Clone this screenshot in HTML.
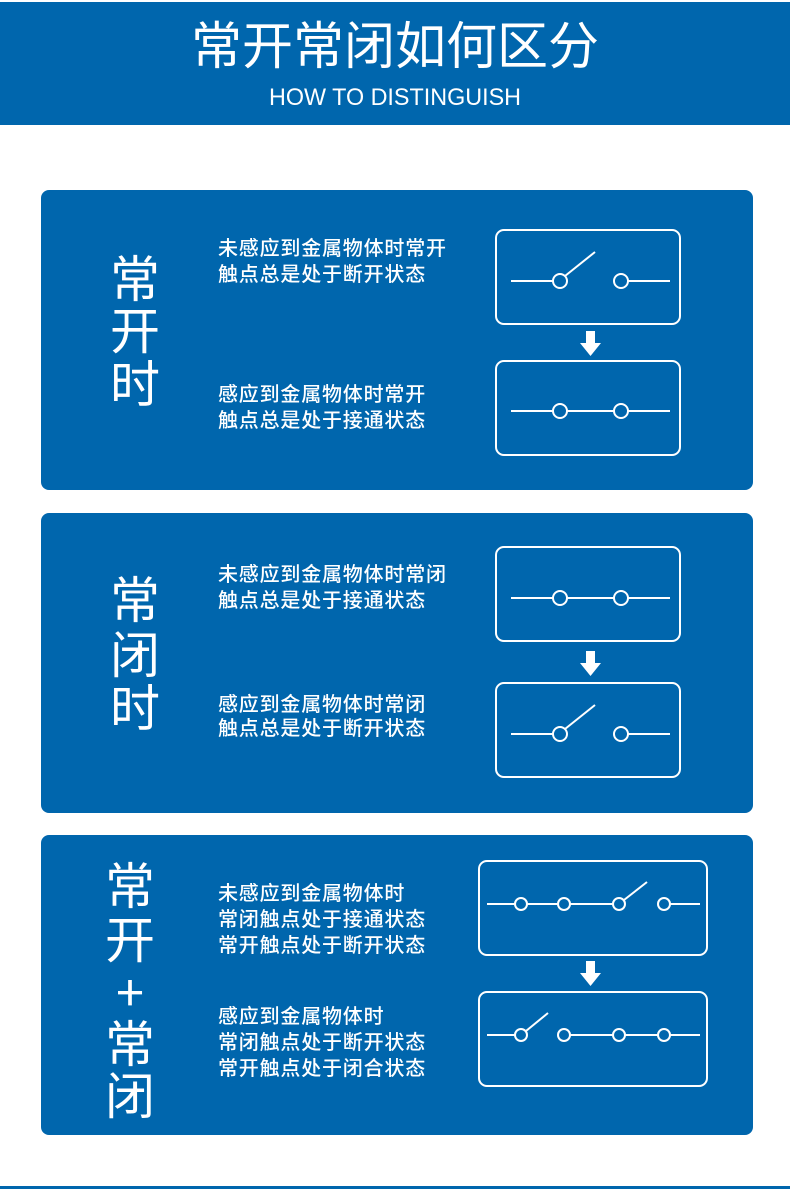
<!DOCTYPE html>
<html><head><meta charset="utf-8"><style>
html,body{margin:0;padding:0;background:#fff;}
svg{display:block}
text{font-family:"Liberation Sans","Noto Sans CJK SC",sans-serif;fill:#fff}
.c{font-family:"Noto Sans CJK SC",sans-serif}
</style></head><body>
<svg width="790" height="1189" viewBox="0 0 790 1189" xmlns="http://www.w3.org/2000/svg">
<rect x="0" y="2" width="790" height="123" fill="#0066ad"/>
<text class="c" x="395" y="64" font-size="51" text-anchor="middle">常开常闭如何区分</text>
<text x="395" y="105" font-size="24" text-anchor="middle" textLength="252" lengthAdjust="spacingAndGlyphs">HOW TO DISTINGUISH</text>

<rect x="41" y="190" width="712" height="300" rx="8" fill="#0066ad"/>
<rect x="41" y="513" width="712" height="300" rx="8" fill="#0066ad"/>
<rect x="41" y="835" width="712" height="300" rx="8" fill="#0066ad"/>
<rect x="0" y="1186" width="790" height="3" fill="#0066ad"/>

<g class="c" font-size="50" text-anchor="middle">
<text class="c" x="135" y="297">常</text>
<text class="c" x="135" y="349">开</text>
<text class="c" x="135" y="402">时</text>
<text class="c" x="135" y="618">常</text>
<text class="c" x="135" y="673">闭</text>
<text class="c" x="135" y="726">时</text>
<text class="c" x="130" y="904">常</text>
<text class="c" x="130" y="958">开</text>
<text class="c" x="130" y="1011">+</text>
<text class="c" x="130" y="1062">常</text>
<text class="c" x="130" y="1114">闭</text>
</g>

<g font-size="20" font-weight="500" letter-spacing="0.8">
<text class="c" x="218" y="255">未感应到金属物体时常开</text>
<text class="c" x="218" y="281">触点总是处于断开状态</text>
<text class="c" x="218" y="401">感应到金属物体时常开</text>
<text class="c" x="218" y="427">触点总是处于接通状态</text>
<text class="c" x="218" y="581">未感应到金属物体时常闭</text>
<text class="c" x="218" y="607">触点总是处于接通状态</text>
<text class="c" x="218" y="711">感应到金属物体时常闭</text>
<text class="c" x="218" y="735">触点总是处于断开状态</text>
<text class="c" x="218" y="900">未感应到金属物体时</text>
<text class="c" x="218" y="926">常闭触点处于接通状态</text>
<text class="c" x="218" y="952">常开触点处于断开状态</text>
<text class="c" x="218" y="1023">感应到金属物体时</text>
<text class="c" x="218" y="1049">常闭触点处于断开状态</text>
<text class="c" x="218" y="1075">常开触点处于闭合状态</text>
</g>

<g fill="none" stroke="#fff" stroke-width="2">
<rect x="496" y="230" width="184" height="94" rx="8"/>
<line x1="511" y1="281" x2="553" y2="281"/><circle cx="560" cy="281" r="7"/>
<line x1="565" y1="276" x2="595" y2="252"/>
<circle cx="621" cy="281" r="7"/><line x1="628" y1="281" x2="670" y2="281"/>
<rect x="496" y="361" width="184" height="94" rx="8"/>
<line x1="511" y1="411" x2="553" y2="411"/><circle cx="560" cy="411" r="7"/>
<line x1="567" y1="411" x2="614" y2="411"/>
<circle cx="621" cy="411" r="7"/><line x1="628" y1="411" x2="670" y2="411"/>
<rect x="496" y="547" width="184" height="94" rx="8"/>
<line x1="511" y1="598" x2="553" y2="598"/><circle cx="560" cy="598" r="7"/>
<line x1="567" y1="598" x2="614" y2="598"/>
<circle cx="621" cy="598" r="7"/><line x1="628" y1="598" x2="670" y2="598"/>
<rect x="496" y="683" width="184" height="94" rx="8"/>
<line x1="511" y1="734" x2="553" y2="734"/><circle cx="560" cy="734" r="7"/>
<line x1="565" y1="729" x2="595" y2="705"/>
<circle cx="621" cy="734" r="7"/><line x1="628" y1="734" x2="670" y2="734"/>
<rect x="479" y="861" width="228" height="94" rx="8"/>
<line x1="487" y1="904" x2="515" y2="904"/><circle cx="521" cy="904" r="6"/>
<line x1="527" y1="904" x2="558" y2="904"/><circle cx="564" cy="904" r="6"/>
<line x1="570" y1="904" x2="613" y2="904"/><circle cx="619" cy="904" r="6"/>
<line x1="624" y1="900" x2="647" y2="882"/>
<circle cx="664" cy="904" r="6"/><line x1="670" y1="904" x2="700" y2="904"/>
<rect x="479" y="992" width="228" height="94" rx="8"/>
<line x1="487" y1="1035" x2="515" y2="1035"/><circle cx="521" cy="1035" r="6"/>
<line x1="526" y1="1031" x2="548" y2="1013"/>
<circle cx="564" cy="1035" r="6"/>
<line x1="570" y1="1035" x2="613" y2="1035"/><circle cx="619" cy="1035" r="6"/>
<line x1="625" y1="1035" x2="658" y2="1035"/><circle cx="664" cy="1035" r="6"/>
<line x1="670" y1="1035" x2="700" y2="1035"/>
</g>
<g fill="#fff">
<path d="M586 331h9v12h6l-10.5 13l-10.5-13h6z"/>
<path d="M586 651h9v12h6l-10.5 13l-10.5-13h6z"/>
<path d="M586 961h9v12h6l-10.5 13l-10.5-13h6z"/>
</g>
</svg>
</body></html>
